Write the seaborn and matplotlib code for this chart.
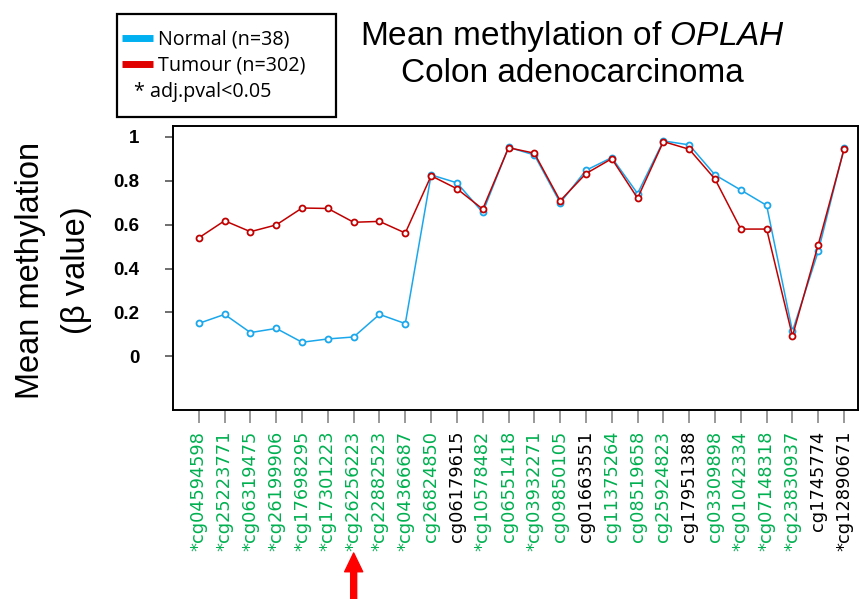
import numpy as np
import pandas as pd
import matplotlib
matplotlib.use("Agg")
import matplotlib.pyplot as plt
import seaborn as sns
from matplotlib.patches import Rectangle
from matplotlib.lines import Line2D

# ---- data ----
probes = ["cg04594598", "cg25223771", "cg06319475", "cg26199906", "cg17698295",
          "cg17301223", "cg26256223", "cg22882523", "cg04366687", "cg26824850",
          "cg06179615", "cg10578482", "cg06551418", "cg03932271", "cg09850105",
          "cg01663551", "cg11375264", "cg08519658", "cg25924823", "cg17951388",
          "cg03309898", "cg01042334", "cg07148318", "cg23830937", "cg1745774",
          "cg12890671"]
significant = [True, True, True, True, True, True, True, True, True, False,
               False, True, False, True, False, False, False, False, False, False,
               False, True, True, True, False, True]
label_colors = ["green"] * 10 + ["black", "green", "green", "green", "green",
                "black", "green", "green", "green", "black", "green", "green",
                "green", "green", "black", "black"]
normal = [0.150, 0.191, 0.108, 0.127, 0.064, 0.079, 0.088, 0.191, 0.149, 0.827,
          0.791, 0.656, 0.953, 0.918, 0.700, 0.848, 0.906, 0.742, 0.982, 0.964,
          0.827, 0.758, 0.688, 0.114, 0.479, 0.949]
tumour = [0.540, 0.618, 0.568, 0.599, 0.676, 0.674, 0.611, 0.615, 0.562, 0.823,
          0.764, 0.671, 0.951, 0.926, 0.709, 0.833, 0.901, 0.721, 0.979, 0.944,
          0.808, 0.580, 0.580, 0.092, 0.509, 0.944]
yticks = [0, 0.2, 0.4, 0.6, 0.8, 1]
ytick_labels = ["0", "0.2", "0.4", "0.6", "0.8", "1"]
highlight_index = 6

GREEN = "#00B050"
BLUE = "#1AA7EC"
RED = "#C00000"

sns.set_style("white")
plt.rcParams["mathtext.fontset"] = "custom"
plt.rcParams["mathtext.rm"] = "Liberation Sans"
plt.rcParams["mathtext.it"] = "Liberation Sans:italic"
plt.rcParams["text.color"] = "black"
plt.rcParams["xtick.color"] = "black"
plt.rcParams["ytick.color"] = "black"

pos = np.arange(len(probes))
df_n = pd.DataFrame({"pos": pos, "value": normal})
df_t = pd.DataFrame({"pos": pos, "value": tumour})

fig = plt.figure(figsize=(8.59, 5.99), dpi=100)
ax = fig.add_axes([173 / 859, 1 - 410 / 599, (858 - 173) / 859, (410 - 126) / 599])

sns.lineplot(data=df_n, x="pos", y="value", ax=ax, color=BLUE, lw=1.1,
             marker="o", markersize=4.3, markerfacecolor="white",
             markeredgecolor=BLUE, markeredgewidth=1.3)
sns.lineplot(data=df_t, x="pos", y="value", ax=ax, color=RED, lw=1.1,
             marker="o", markersize=4.3, markerfacecolor="white",
             markeredgecolor=RED, markeredgewidth=1.3)

ax.set_xlim(-1.0, len(probes) - 1 + 0.54)
ax.set_ylim(-0.245, 1.05)
ax.set_xlabel("")
ax.set_ylabel("")

ax.set_yticks(yticks)
ax.set_yticklabels(ytick_labels, fontfamily="Liberation Sans", fontweight="bold",
                   fontsize=13.5, color="black")
ax.set_xticks(pos)
xt = [("*" if s else "") + p for s, p in zip(significant, probes)]
ax.set_xticklabels(xt, rotation=90, fontfamily="DejaVu Sans", fontsize=12.8,
                   va="top", ha="center")
for lab, c in zip(ax.get_xticklabels(), label_colors):
    lab.set_color(GREEN if c == "green" else "black")

ax.tick_params(axis="y", which="major", left=True, length=6, width=1.2,
               color="#555555", pad=18)
ax.tick_params(axis="x", which="major", bottom=True, length=9, width=1.2,
               color="#888888", pad=6)
for s in ax.spines.values():
    s.set_visible(True)
    s.set_color("black")
    s.set_linewidth(1.4)

# y label (two centred lines)
ycen = 1 - 270 / 599
fig.text(31 / 859, ycen, "Mean methylation", rotation=90, color="black",
         ha="center", va="center", fontfamily="Liberation Sans", fontsize=23.5)
fig.text(77 / 859, ycen, "(\u03b2 value)", rotation=90, color="black",
         ha="center", va="center", fontfamily="Liberation Sans", fontsize=23.5)

# title
fig.text(572 / 859, 1 - 36 / 599, r"Mean methylation of $\mathit{OPLAH}$",
         ha="center", va="center", fontfamily="Liberation Sans", fontsize=24,
         color="black")
fig.text(572 / 859, 1 - 73 / 599, "Colon adenocarcinoma",
         ha="center", va="center", fontfamily="Liberation Sans", fontsize=24,
         color="black")

# legend box (manual)
W, H = 859, 599
fig.patches.append(Rectangle((117 / W, 1 - 117 / H), (336 - 117) / W, (117 - 14) / H,
                             transform=fig.transFigure, fill=False,
                             edgecolor="black", linewidth=1.6))
fig.lines.append(Line2D([122 / W, 153 / W], [1 - 38 / H, 1 - 38 / H],
                        transform=fig.transFigure, color="#00B0F0", lw=5,
                        solid_capstyle="butt"))
fig.lines.append(Line2D([122 / W, 153 / W], [1 - 64 / H, 1 - 64 / H],
                        transform=fig.transFigure, color="#E00000", lw=5,
                        solid_capstyle="butt"))
fig.text(158 / W, 1 - 40 / H, "Normal (n=38)", ha="left", va="center",
         fontfamily="Open Sans", fontsize=14.2, color="black")
fig.text(158 / W, 1 - 66 / H, "Tumour (n=302)", ha="left", va="center",
         fontfamily="Open Sans", fontsize=14.2, color="black")
fig.text(134 / W, 1 - 92 / H, "* adj.pval<0.05", ha="left", va="center",
         fontfamily="Open Sans", fontsize=14.2, color="black")

# red arrow under the highlighted probe
ax.annotate("", xy=(highlight_index, 599 - 553),
            xycoords=("data", "figure pixels"),
            xytext=(highlight_index, 0), textcoords=("data", "figure pixels"),
            arrowprops=dict(facecolor="#FF0000", edgecolor="#FF0000",
                            width=4.3, headwidth=13, headlength=13.5),
            annotation_clip=False)

fig.savefig("out.png", dpi=100)
